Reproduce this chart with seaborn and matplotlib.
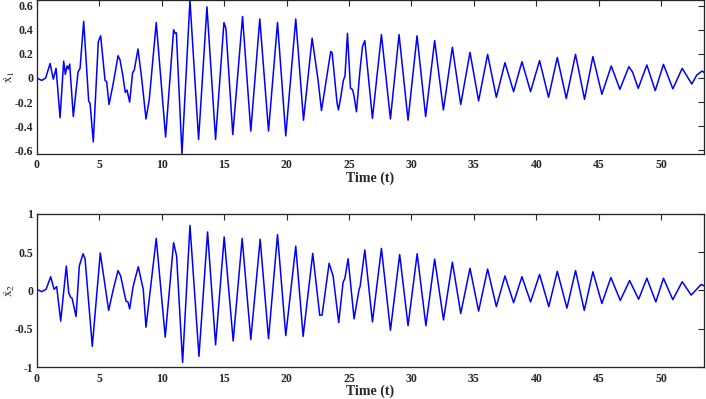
import matplotlib
matplotlib.use("Agg")
import matplotlib.pyplot as plt
import seaborn as sns
import pandas as pd

# ---- data (extrema and shoulders) ----
t1 = [0, 0.4, 0.72, 1.07, 1.33, 1.55, 1.87, 2.16, 2.29, 2.43, 2.53, 2.64, 2.93, 3.31, 3.47,
      3.76, 4.16, 4.27, 4.53, 4.93, 5.12, 5.47, 5.6, 5.79, 6.08, 6.27, 6.51, 6.67, 6.88, 7.09,
      7.23, 7.44, 7.68, 7.81, 8.11, 8.4, 8.75, 9.01, 9.57, 10.32, 10.96, 11.08, 11.18, 11.63,
      12.27, 12.96, 13.63, 14.32, 14.99, 15.15, 15.7, 16.48, 17.14, 17.86, 18.56, 19.28, 19.94,
      20.74, 21.36, 22.05, 22.53, 22.8, 23.54, 23.65, 24.05, 24.16, 24.35, 24.55, 24.68, 24.88,
      25.12, 25.28, 25.39, 25.6, 25.87, 26.08, 26.27, 26.88, 27.6, 28.32, 29.01, 29.73, 30.45,
      31.14, 31.86, 32.56, 33.28, 33.95, 34.69, 35.38, 36.1, 36.8, 37.49, 38.18, 38.85, 39.54,
      40.26, 40.98, 41.68, 42.4, 43.14, 43.86, 44.53, 45.25, 46.0, 46.69, 47.41, 47.7, 48.16,
      48.85, 49.52, 50.18, 50.93, 51.68, 52.45, 52.85, 53.28, 53.45]
x1 = [0.0, -0.02, 0.0, 0.12, -0.01, 0.08, -0.33, 0.14, 0.03, 0.10, 0.075, 0.115, -0.32, 0.05, 0.08,
      0.47, -0.19, -0.21, -0.53, 0.30, 0.35, -0.02, -0.03, -0.22, -0.07, 0.04, 0.185, 0.15, 0.03, -0.12,
      -0.10, -0.20, 0.045, 0.065, 0.24, 0.0, -0.34, -0.18, 0.46, -0.49, 0.40, 0.37, 0.375, -0.63,
      0.645, -0.51, 0.59, -0.51, 0.46, 0.41, -0.47, 0.51, -0.44, 0.49, -0.44, 0.46, -0.48,
      0.49, -0.35, 0.33, -0.02, -0.27, 0.22, 0.21, -0.21, -0.265, -0.155, -0.02, 0.015, 0.37,
      -0.085, -0.095, -0.14, -0.28, 0.05, 0.26, 0.31, -0.335, 0.36, -0.34, 0.36, -0.35, 0.35,
      -0.32, 0.31, -0.265, 0.255, -0.22, 0.213, -0.19, 0.196, -0.16, 0.127, -0.113, 0.135, -0.113,
      0.144, -0.16, 0.17, -0.17, 0.196, -0.177, 0.177, -0.135, 0.10, -0.094, 0.094, 0.05, -0.086,
      0.108, -0.105, 0.113, -0.09, 0.08, -0.05, 0.025, 0.058, 0.044]

t2 = [0, 0.4, 0.75, 1.12, 1.39, 1.6, 1.92, 2.37, 2.56, 2.72, 2.83, 3.15, 3.41, 3.71, 3.87,
      4.45, 5.09, 5.76, 6.13, 6.51, 6.72, 7.15, 7.31, 7.44, 7.73, 8.13, 8.53, 8.75, 9.57,
      10.29, 10.96, 11.2, 11.68, 12.27, 12.99, 13.68, 14.32, 15.01, 15.73, 16.45, 17.14, 17.89,
      18.56, 19.28, 19.94, 20.74, 21.33, 22.1, 22.66, 22.85, 23.41, 23.73, 24.18, 24.53, 24.67,
      24.93, 25.41, 25.81, 25.89, 26.27, 26.88, 27.6, 28.32, 29.06, 29.73, 30.46, 31.16, 31.86,
      32.57, 33.28, 33.95, 34.69, 35.38, 36.1, 36.8, 37.49, 38.18, 38.85, 39.54, 40.26, 41.0,
      41.68, 42.45, 43.14, 43.84, 44.53, 45.25, 45.97, 46.72, 47.47, 48.19, 48.85, 49.57, 50.18,
      50.93, 51.68, 52.4, 53.2, 53.45]
x2 = [0.015, -0.015, 0.015, 0.18, 0.015, 0.05, -0.40, 0.32, -0.03, -0.09, -0.10, -0.34, 0.32, 0.48, 0.415,
      -0.73, 0.49, -0.26, 0.015, 0.26, 0.19, -0.14, -0.15, -0.24, 0.06, 0.31, 0.015, -0.48, 0.68,
      -0.61, 0.625, 0.45, -0.94, 0.85, -0.86, 0.765, -0.71, 0.70, -0.66, 0.68, -0.64, 0.67,
      -0.63, 0.73, -0.59, 0.58, -0.60, 0.485, -0.325, -0.32, 0.355, 0.19, -0.42, 0.11, 0.155,
      0.415, -0.37, 0.015, 0.05, 0.53, -0.41, 0.55, -0.52, 0.47, -0.46, 0.48, -0.46, 0.41,
      -0.385, 0.37, -0.30, 0.29, -0.27, 0.28, -0.21, 0.19, -0.16, 0.18, -0.15, 0.21, -0.21,
      0.25, -0.23, 0.26, -0.26, 0.245, -0.17, 0.17, -0.13, 0.13, -0.115, 0.16, -0.15, 0.16,
      -0.12, 0.115, -0.06, 0.08, 0.06]

x_ticks = [0, 5, 10, 15, 20, 25, 30, 35, 40, 45, 50]
y1_ticks = [-0.6, -0.4, -0.2, 0, 0.2, 0.4, 0.6]
y1_labels = ["-0.6", "-0.4", "-0.2", "0", "0.2", "0.4", "0.6"]
y2_ticks = [-1, -0.5, 0, 0.5, 1]
y2_labels = ["-1", "-0.5", "0", "0.5", "1"]

df1 = pd.DataFrame({"t": t1, "v": x1})
df2 = pd.DataFrame({"t": t2, "v": x2})

sns.set_theme(style="white")
plt.rcParams["font.family"] = ["Liberation Serif", "DejaVu Serif"]
plt.rcParams["mathtext.fontset"] = "stix"

fig = plt.figure(figsize=(7.06, 3.99), dpi=100)
ax1 = fig.add_axes([0.052, 0.6148, 0.9456, 0.384])
ax2 = fig.add_axes([0.052, 0.0802, 0.9456, 0.3835])

for ax, df, yt, yl, ylim, lab in [
    (ax1, df1, y1_ticks, y1_labels, (-0.628, 0.643), r"$\dot{\mathrm{x}}_1$"),
    (ax2, df2, y2_ticks, y2_labels, (-1.0, 1.0), r"$\dot{\mathrm{x}}_2$"),
]:
    sns.lineplot(data=df, x="t", y="v", ax=ax, color="#0000ff", linewidth=1.1,
                 estimator=None, sort=False)
    ax.set_xlim(0, 53.45)
    ax.set_ylim(*ylim)
    ax.set_xticks(x_ticks)
    ax.set_xticklabels([str(v) for v in x_ticks], fontweight="bold", fontsize=8.5)
    ax.set_yticks(yt)
    ax.set_yticklabels(yl, fontweight="bold", fontsize=8.5)
    ax.tick_params(direction="in", top=True, right=True, length=4.5, width=0.8,
                   colors="#262626", pad=4)
    ax.tick_params(axis="y", pad=2.5)
    for s in ax.spines.values():
        s.set_visible(True)
        s.set_color("#262626")
        s.set_linewidth(0.95)
    ax.set_xlabel("Time (t)", fontweight="bold", fontsize=10, labelpad=0)
    ax.set_ylabel(lab, fontsize=9.5)
    ax.yaxis.set_label_coords(-0.030, 0.5)

fig.savefig("out.png", dpi=100)
